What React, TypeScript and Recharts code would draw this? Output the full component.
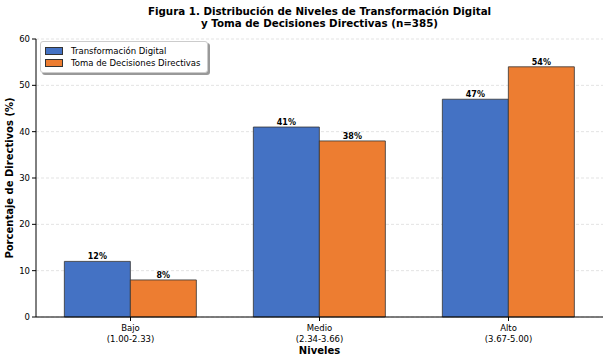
import { BarChart, Bar, XAxis, YAxis, CartesianGrid, LabelList, Label } from 'recharts';

// categories and their score ranges
const niveles = ['Bajo', 'Medio', 'Alto'];
const rangos = ['(1.00-2.33)', '(2.34-3.66)', '(3.67-5.00)'];

// percentage of directors per level
const transformacionDigital = [12, 41, 47];
const tomaDecisiones = [8, 38, 54];

const yTicks = [0, 10, 20, 30, 40, 50, 60];

const data = niveles.map((nivel, i) => ({
  nivel,
  rango: rangos[i],
  td: transformacionDigital[i],
  tdd: tomaDecisiones[i],
}));

const BLUE = '#4472C4';
const ORANGE = '#ED7D31';
const FONT = '"DejaVu Sans", sans-serif';

function NivelTick(props: any) {
  const { x, y, payload } = props;
  const idx = niveles.indexOf(payload.value);
  return (
    <g transform={`translate(${x},${y})`}>
      <text textAnchor="middle" fontSize={8.5} fontFamily={FONT} fill="#000">
        <tspan x={0} dy={8}>{payload.value}</tspan>
        <tspan x={0} dy={10.5}>{rangos[idx]}</tspan>
      </text>
    </g>
  );
}

// legend drawn as an overlay so it doesn't eat plot space
function LegendBox() {
  const items = [
    { name: 'Transformación Digital', color: BLUE },
    { name: 'Toma de Decisiones Directivas', color: ORANGE },
  ];
  return (
    <div
      style={{
        position: 'absolute',
        left: 40,
        top: 41,
        border: '1px solid #ccc',
        borderRadius: 3,
        background: '#fff',
        boxShadow: '2px 2px 0 #999',
        padding: '3px 6px 3px 4px',
        fontFamily: FONT,
        fontSize: 8.5,
      }}
    >
      {items.map((it) => (
        <div key={it.name} style={{ display: 'flex', alignItems: 'center', height: 12 }}>
          <span
            style={{
              display: 'inline-block',
              width: 16,
              height: 6,
              background: it.color,
              border: '1px solid #333',
              marginRight: 8,
            }}
          />
          <span>{it.name}</span>
        </div>
      ))}
    </div>
  );
}

export default function App() {
  return (
    <div style={{ position: 'absolute', left: 0, top: 0, width: 609, height: 360, background: '#fff' }}>
      <div
        style={{
          position: 'absolute',
          left: 36,
          width: 567,
          top: 5,
          textAlign: 'center',
          fontFamily: FONT,
          fontWeight: 'bold',
          fontSize: 10.3,
          lineHeight: '12px',
          color: '#000',
        }}
      >
        Figura 1. Distribución de Niveles de Transformación Digital
        <br />
        y Toma de Decisiones Directivas (n=385)
      </div>
      <BarChart
        width={609}
        height={360}
        data={data}
        margin={{ top: 39, right: 6, left: 0, bottom: 0 }}
        barCategoryGap="15%"
        barGap={0}
      >
        <CartesianGrid horizontal vertical={false} stroke="#e3e3e3" strokeDasharray="3 2" />
        <XAxis
          dataKey="nivel"
          tick={<NivelTick />}
          tickLine={{ stroke: '#000' }}
          tickSize={4}
          axisLine={{ stroke: '#000' }}
          height={43}
        >
          <Label value="Niveles" position="insideBottom" offset={6} fontFamily={FONT} fontSize={10} fontWeight="bold" fill="#000" />
        </XAxis>
        <YAxis
          domain={[0, 60]}
          ticks={yTicks}
          width={36}
          tick={{ fontFamily: FONT, fontSize: 8.5, fill: '#000' }}
          tickLine={{ stroke: '#000' }}
          tickSize={4}
          axisLine={{ stroke: '#000' }}
        >
          <Label
            value="Porcentaje de Directivos (%)"
            angle={-90}
            position="insideLeft"
            offset={9}
            style={{ textAnchor: 'middle' }}
            fontFamily={FONT}
            fontSize={10}
            fontWeight="bold"
            fill="#000"
          />
        </YAxis>
        <Bar dataKey="td" name="Transformación Digital" fill={BLUE} stroke="#333" strokeWidth={0.8} isAnimationActive={false}>
          <LabelList dataKey="td" position="top" offset={2} formatter={(v: any) => `${v}%`} fontFamily={FONT} fontSize={8} fontWeight="bold" fill="#000" />
        </Bar>
        <Bar dataKey="tdd" name="Toma de Decisiones Directivas" fill={ORANGE} stroke="#333" strokeWidth={0.8} isAnimationActive={false}>
          <LabelList dataKey="tdd" position="top" offset={2} formatter={(v: any) => `${v}%`} fontFamily={FONT} fontSize={8} fontWeight="bold" fill="#000" />
        </Bar>
      </BarChart>
      <LegendBox />
    </div>
  );
}
